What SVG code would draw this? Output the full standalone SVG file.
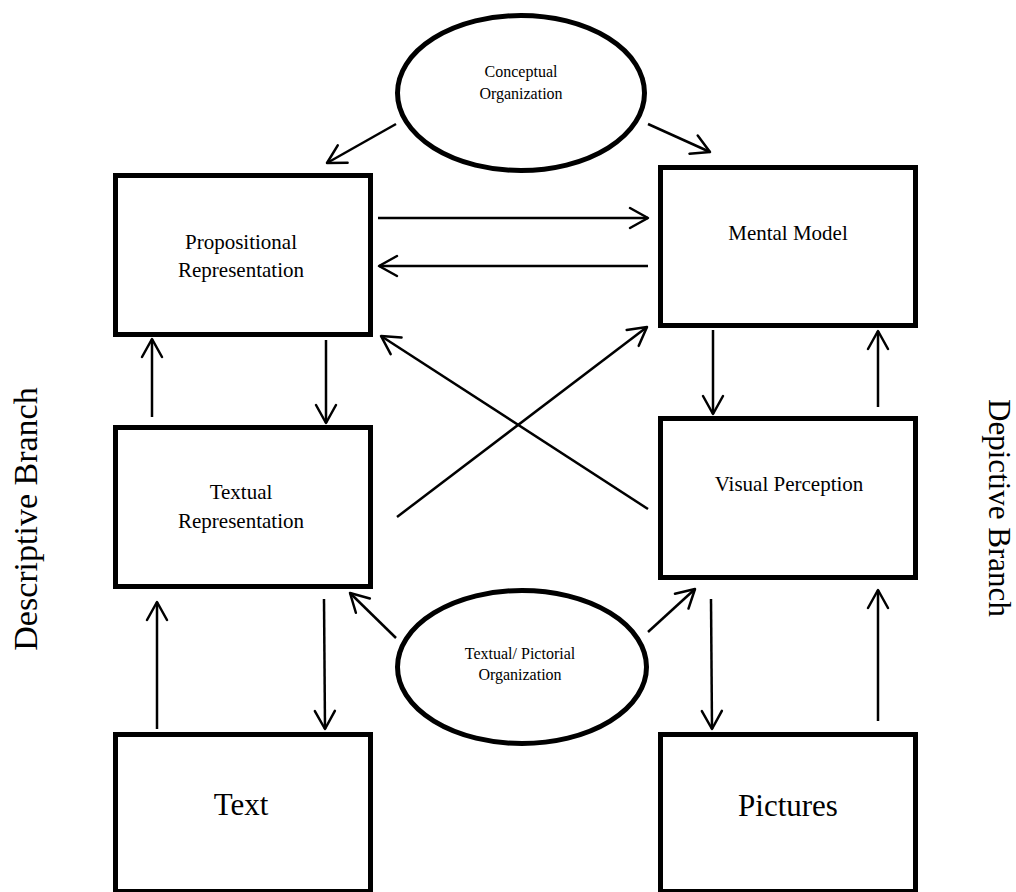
<svg xmlns="http://www.w3.org/2000/svg" width="1016" height="892" viewBox="0 0 1016 892">
<style>
.box{fill:#fff;stroke:#000;stroke-width:5}
.ell{fill:#fff;stroke:#000;stroke-width:5}
.lbl{font-family:"Liberation Serif","Times New Roman",serif;fill:#000;text-anchor:middle}
.n{font-size:21px}
.s{font-size:16px}
.b{font-size:31px}
.con line{stroke:#000;stroke-width:2.5;fill:none;marker-end:url(#ah)}
</style>
<defs>
<marker id="ah" markerUnits="userSpaceOnUse" viewBox="-25 -15 30 30" markerWidth="30" markerHeight="30" refX="0" refY="0" orient="auto">
<path d="M-18,-10 L0,0 L-18,10" fill="none" stroke="#000" stroke-width="2.5" stroke-linejoin="round" stroke-linecap="round"/>
</marker>
</defs>
<rect width="1016" height="892" fill="#fff"/>
<g id="conceptual">
<ellipse class="ell" cx="521" cy="93" rx="123.5" ry="77.5"/>
<text class="lbl s" x="521" y="77">Conceptual</text>
<text class="lbl s" x="521" y="99">Organization</text>
</g>
<g id="propositional">
<rect class="box" x="115.5" y="175.5" width="255" height="159"/>
<text class="lbl n" x="241" y="249">Propositional</text>
<text class="lbl n" x="241" y="277">Representation</text>
</g>
<g id="mental">
<rect class="box" x="660.5" y="167.5" width="255" height="158"/>
<text class="lbl n" x="788" y="240">Mental Model</text>
</g>
<g id="textual">
<rect class="box" x="115.5" y="427.5" width="255" height="159"/>
<text class="lbl n" x="241" y="499">Textual</text>
<text class="lbl n" x="241" y="528">Representation</text>
</g>
<g id="visual">
<rect class="box" x="660.5" y="418.5" width="255" height="159"/>
<text class="lbl n" x="789" y="491">Visual Perception</text>
</g>
<g id="organization">
<ellipse class="ell" cx="522" cy="667" rx="124.5" ry="76.5"/>
<text class="lbl s" x="520" y="659">Textual/ Pictorial</text>
<text class="lbl s" x="520" y="680">Organization</text>
</g>
<g id="text">
<rect class="box" x="115.5" y="734.5" width="255" height="157"/>
<text class="lbl b" x="241" y="815">Text</text>
</g>
<g id="pictures">
<rect class="box" x="660.5" y="734.5" width="255" height="157"/>
<text class="lbl b" x="788" y="816">Pictures</text>
</g>
<g id="descriptive-label">
<text class="lbl" font-size="34" transform="translate(37,519) rotate(-90)">Descriptive Branch</text>
</g>
<g id="depictive-label">
<text class="lbl" font-size="31" transform="translate(989,508) rotate(90)">Depictive Branch</text>
</g>
<g id="connectors" class="con">
<line x1="396" y1="124" x2="327" y2="163"/>
<line x1="648" y1="124" x2="710" y2="152"/>
<line x1="378" y1="218" x2="648" y2="218"/>
<line x1="648" y1="266" x2="379" y2="266"/>
<line x1="326" y1="340" x2="326" y2="423"/>
<line x1="152" y1="417" x2="152" y2="339"/>
<line x1="713" y1="330" x2="713" y2="414"/>
<line x1="878" y1="407" x2="878" y2="331"/>
<line x1="397" y1="517" x2="647" y2="327"/>
<line x1="648" y1="509" x2="381" y2="336"/>
<line x1="157" y1="729" x2="157" y2="602"/>
<line x1="324" y1="599" x2="325" y2="729"/>
<line x1="711" y1="599" x2="712" y2="729"/>
<line x1="878" y1="721" x2="878" y2="590"/>
<line x1="396" y1="638" x2="350" y2="593"/>
<line x1="648" y1="632" x2="695" y2="589"/>
</g>
</svg>
